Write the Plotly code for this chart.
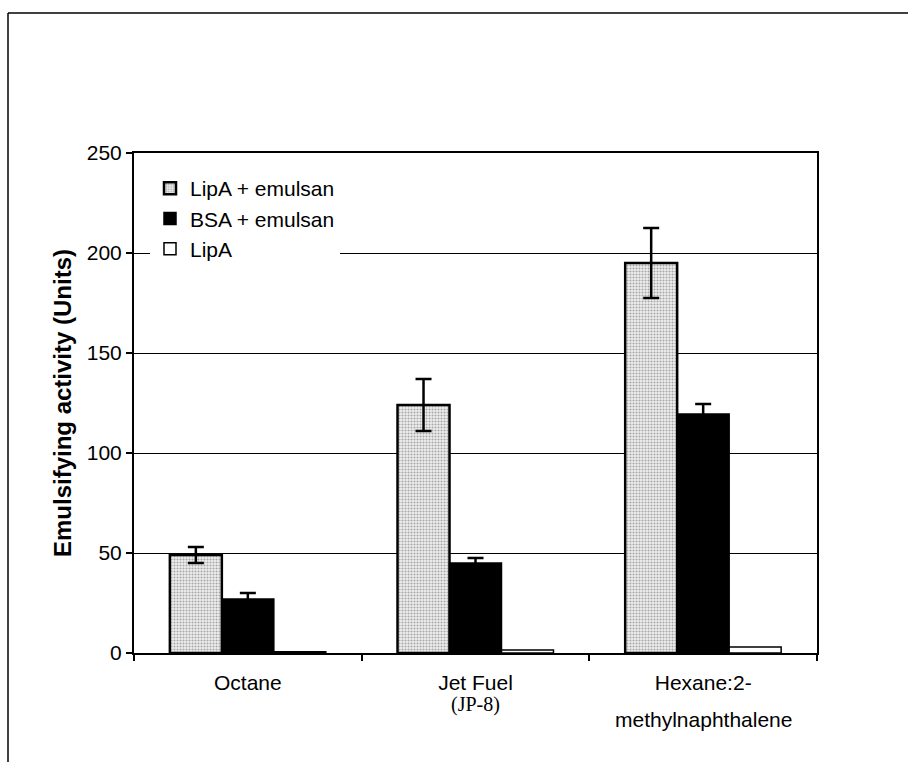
import plotly.graph_objects as go

# Hydrocarbon substrates (x categories)
substrates = ["Octane", "Jet Fuel", "Hexane:2-"]
substrate_sublines = ["", "(JP-8)", "methylnaphthalene"]
sub_fonts = ["Liberation Sans", "Liberation Serif", "Liberation Sans"]

# Emulsifying activity (Units) and standard errors
lipa_emulsan = [49, 124, 195]
lipa_emulsan_err = [4, 13, 17.5]
bsa_emulsan = [27, 45, 119.5]
bsa_emulsan_err = [3, 2.5, 5]
lipa_only = [0.6, 1.5, 3]

y_ticks = [0, 50, 100, 150, 200, 250]

SANS = "Liberation Sans, Arial, Helvetica, sans-serif"
FS = 21

fig = go.Figure()

fig.add_trace(go.Bar(
    name="LipA + emulsan", x=substrates, y=lipa_emulsan, legendgroup="a",
    marker=dict(color="#e8e8e8", line=dict(color="black", width=2.5),
                pattern=dict(shape=".", fgcolor="#5e5e5e", bgcolor="#efefef",
                             size=3, solidity=0.4)),
    error_y=dict(type="data", array=lipa_emulsan_err, color="black",
                 thickness=2.5, width=8),
))
fig.add_trace(go.Bar(
    name="BSA + emulsan", x=substrates, y=bsa_emulsan, legendgroup="b",
    marker=dict(color="black", line=dict(color="black", width=1.5)),
    error_y=dict(type="data", array=bsa_emulsan_err, color="black",
                 thickness=2.5, width=8),
))
fig.add_trace(go.Bar(
    name="LipA", x=substrates, y=lipa_only, legendgroup="c",
    marker=dict(color="white", line=dict(color="black", width=1.5)),
))

# second lines of the category labels
annotations = []
for cat, sub, fam in zip(substrates, substrate_sublines, sub_fonts):
    if sub:
        serif = fam.endswith("Serif")
        annotations.append(dict(
            x=cat, xref="x", y=(653 - (704 if serif else 719)) / 500,
            yref="paper", text=sub, showarrow=False,
            font=dict(family=fam, size=FS if not serif else 20, color="black"),
            xanchor="center", yanchor="middle",
        ))

# outer frame of the figure panel (top and left edges)
shapes = [
    dict(type="line", xref="paper", yref="paper",
         x0=-126 / 683, x1=800 / 683, y0=(653 - 13) / 500, y1=(653 - 13) / 500,
         line=dict(color="black", width=1.5)),
    dict(type="line", xref="paper", yref="paper",
         x0=-126 / 683, x1=-126 / 683, y0=(653 - 13) / 500, y1=-120 / 500,
         line=dict(color="black", width=1.5)),
]

fig.update_layout(
    width=908, height=762,
    margin=dict(l=134, r=91, t=153, b=109),
    paper_bgcolor="white", plot_bgcolor="white",
    barmode="group", bargap=0.315, bargroupgap=0,
    font=dict(family=SANS, size=FS, color="black"),
    showlegend=True,
    legend=dict(
        x=(150 - 134) / 683, y=(653 - 168) / 500, xanchor="left", yanchor="top",
        bgcolor="white", borderwidth=0, tracegroupgap=5,
        font=dict(family=SANS, size=FS, color="black"),
        traceorder="normal",
    ),
    annotations=annotations,
    shapes=shapes,
)

fig.update_xaxes(
    type="category", tickson="boundaries", ticks="outside", ticklen=6,
    tickwidth=1.5, tickcolor="black", showline=True, linecolor="black",
    linewidth=1.5, mirror=True, showgrid=False, ticklabelstandoff=10,
    tickfont=dict(family=SANS, size=FS),
)
fig.update_yaxes(
    range=[0, 250], tickvals=y_ticks, ticks="outside", ticklen=6,
    tickwidth=1.5, tickcolor="black", showline=True, linecolor="black",
    linewidth=2, mirror=True, showgrid=True, gridcolor="black", gridwidth=1,
    zeroline=False, tickfont=dict(family=SANS, size=FS),
    title=dict(text="<b>Emulsifying activity (Units)</b>", standoff=8,
               font=dict(family=SANS, size=24)),
)

fig.write_html("out.html")
